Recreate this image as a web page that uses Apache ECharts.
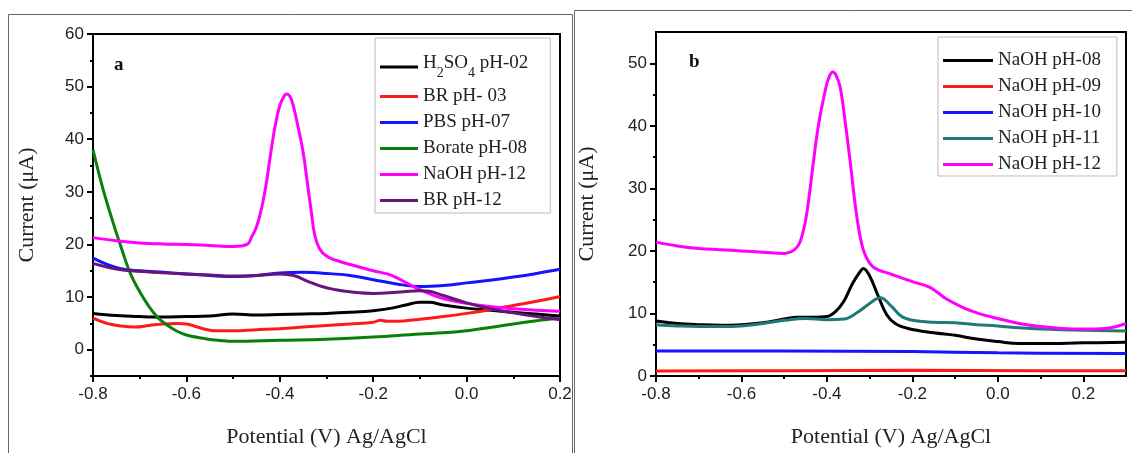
<!DOCTYPE html>
<html>
<head>
<meta charset="utf-8">
<script src="https://cdn.jsdelivr.net/npm/echarts@6/dist/echarts.min.js"></script>
<style>
  html, body { margin: 0; padding: 0; background: #fff; }
  #chart { width: 1132px; height: 453px; }
</style>
</head>
<body>
<div id="chart"></div>
<script>
// ---- panel a data ----
var aH2so4X = [-0.8, -0.75, -0.7, -0.65, -0.6, -0.55, -0.5, -0.45, -0.4, -0.35, -0.3, -0.25, -0.2, -0.16, -0.13, -0.1, -0.08, -0.05, 0, 0.05, 0.1, 0.15, 0.2];
var aH2so4Y = [6.9, 6.5, 6.3, 6.2, 6.3, 6.4, 6.8, 6.6, 6.7, 6.8, 6.9, 7.1, 7.4, 7.9, 8.5, 9.0, 9.0, 8.5, 7.9, 7.5, 7.1, 6.8, 6.4];

var aBr03X = [-0.8, -0.77, -0.74, -0.71, -0.68, -0.65, -0.62, -0.6, -0.58, -0.56, -0.54, -0.5, -0.45, -0.4, -0.35, -0.3, -0.25, -0.2, -0.185, -0.17, -0.15, -0.1, -0.05, 0, 0.05, 0.1, 0.15, 0.2];
var aBr03Y = [6.0, 5.0, 4.5, 4.3, 4.6, 4.9, 5.0, 4.9, 4.4, 3.9, 3.6, 3.6, 3.8, 4.0, 4.3, 4.6, 4.9, 5.2, 5.6, 5.4, 5.4, 5.8, 6.3, 6.9, 7.6, 8.4, 9.2, 10.1];

var aPbsX = [-0.8, -0.77, -0.74, -0.7, -0.65, -0.6, -0.55, -0.5, -0.45, -0.4, -0.35, -0.3, -0.25, -0.2, -0.15, -0.1, -0.05, 0, 0.05, 0.1, 0.15, 0.2];
var aPbsY = [17.4, 16.2, 15.4, 15.0, 14.7, 14.4, 14.1, 13.9, 14.1, 14.6, 14.7, 14.5, 14.1, 13.3, 12.5, 12.0, 12.2, 12.7, 13.2, 13.8, 14.5, 15.3];

var aBorateX = [-0.8, -0.78, -0.76, -0.74, -0.72, -0.7, -0.68, -0.66, -0.64, -0.62, -0.6, -0.56, -0.52, -0.5, -0.4, -0.3, -0.2, -0.1, -0.05, 0, 0.05, 0.1, 0.15, 0.2];
var aBorateY = [38, 31, 25, 19.5, 14.5, 11, 8.2, 6, 4.6, 3.5, 2.8, 2.1, 1.7, 1.6, 1.8, 2.0, 2.4, 3.0, 3.2, 3.6, 4.2, 4.9, 5.5, 6.0];

var aNaoh12X = [-0.8, -0.75, -0.7, -0.65, -0.6, -0.55, -0.5, -0.47, -0.46, -0.45, -0.44, -0.43, -0.42, -0.41, -0.4, -0.39, -0.385, -0.375, -0.363, -0.35, -0.342, -0.333, -0.325, -0.315, -0.3, -0.28, -0.25, -0.2, -0.17, -0.15, -0.12, -0.1, -0.05, 0, 0.05, 0.1, 0.15, 0.2];
var aNaoh12Y = [21.3, 20.7, 20.3, 20.1, 20.0, 19.8, 19.6, 20.0, 21.5, 23.3, 26.5, 31, 37, 42.5, 46.4, 48.3, 48.6, 47.5, 43.2, 37.5, 32.4, 26.5, 21.7, 19.2, 17.8, 17.0, 16.2, 15.0, 14.4, 13.7, 12.3, 11.4, 9.7, 8.8, 8.2, 7.8, 7.5, 7.3];

var aBr12X = [-0.8, -0.77, -0.74, -0.7, -0.65, -0.6, -0.55, -0.5, -0.45, -0.4, -0.37, -0.34, -0.31, -0.28, -0.25, -0.2, -0.15, -0.1, -0.08, -0.05, 0, 0.05, 0.1, 0.15, 0.2];
var aBr12Y = [16.4, 15.7, 15.2, 14.9, 14.6, 14.4, 14.2, 14.0, 14.1, 14.4, 14.1, 13.0, 12.0, 11.4, 11.0, 10.7, 10.9, 11.2, 11.1, 10.3, 8.9, 7.8, 7.0, 6.3, 5.7];

// ---- panel b data ----
var bPh08X = [-0.8, -0.75, -0.7, -0.65, -0.6, -0.55, -0.5, -0.47, -0.43, -0.4, -0.38, -0.36, -0.34, -0.32, -0.315, -0.3, -0.28, -0.26, -0.24, -0.21, -0.15, -0.1, -0.05, 0, 0.05, 0.1, 0.2, 0.3];
var bPh08Y = [8.8, 8.4, 8.2, 8.1, 8.2, 8.5, 9.1, 9.4, 9.4, 9.5, 10.3, 12.0, 14.8, 16.9, 17.2, 16.0, 12.8, 9.8, 8.4, 7.6, 6.9, 6.5, 5.9, 5.5, 5.2, 5.2, 5.3, 5.4];

var bPh09X = [-0.8, -0.5, -0.2, 0.1, 0.3];
var bPh09Y = [0.8, 0.85, 0.9, 0.85, 0.85];

var bPh10X = [-0.8, -0.5, -0.2, 0, 0.3];
var bPh10Y = [4.0, 4.0, 3.9, 3.7, 3.6];

var bPh11X = [-0.8, -0.75, -0.7, -0.65, -0.6, -0.55, -0.5, -0.45, -0.4, -0.36, -0.33, -0.3, -0.275, -0.25, -0.225, -0.2, -0.15, -0.1, -0.05, 0, 0.05, 0.1, 0.2, 0.3];
var bPh11Y = [8.2, 8.0, 7.9, 7.9, 8.0, 8.4, 8.9, 9.2, 9.0, 9.1, 10.1, 11.6, 12.5, 11.2, 9.5, 8.9, 8.6, 8.5, 8.2, 8.0, 7.7, 7.5, 7.3, 7.2];

var bPh12X = [-0.8, -0.75, -0.7, -0.65, -0.6, -0.55, -0.5, -0.47, -0.455, -0.445, -0.432, -0.42, -0.404, -0.395, -0.386, -0.378, -0.369, -0.357, -0.345, -0.334, -0.322, -0.31, -0.291, -0.25, -0.2, -0.16, -0.14, -0.12, -0.08, -0.04, 0, 0.05, 0.1, 0.15, 0.2, 0.25, 0.3];
var bPh12Y = [21.4, 20.8, 20.4, 20.2, 20.0, 19.8, 19.6, 20.6, 23.3, 27, 34, 40, 45.6, 47.8, 48.6, 48.0, 46.2, 40.5, 34, 27.5, 22.2, 19.3, 17.4, 16.3, 15.1, 14.2, 13.3, 12.3, 10.9, 9.9, 9.2, 8.4, 7.9, 7.6, 7.5, 7.6, 8.4];

// ---- tick values ----
var aXMajor = [-0.8, -0.6, -0.4, -0.2, 0, 0.2];
var aXMinor = [-0.7, -0.5, -0.3, -0.1, 0.1];
var aYMajor = [0, 10, 20, 30, 40, 50, 60];
var aYMinor = [-5, 5, 15, 25, 35, 45, 55];
var bXMajor = [-0.8, -0.6, -0.4, -0.2, 0, 0.2];
var bXMinor = [-0.7, -0.5, -0.3, -0.1, 0.1];
var bYMajor = [0, 10, 20, 30, 40, 50];
var bYMinor = [5, 15, 25, 35, 45];

var legendA = ['H2SO4 pH-02', 'BR pH- 03', 'PBS pH-07', 'Borate pH-08', 'NaOH pH-12', 'BR pH-12'];
var legendB = ['NaOH pH-08', 'NaOH pH-09', 'NaOH pH-10', 'NaOH pH-11', 'NaOH pH-12'];

var zip = function (xs, ys) {
    var out = [];
    xs.forEach(function (x, i) { out.push([x, ys[i]]); });
    return out;
};

var serifFont = 'Liberation Serif';
var sansFont = 'Liberation Sans';

var mainX = function (grid, min, max, ticks) {
    return {
        type: 'value', gridIndex: grid, min: min, max: max, position: 'bottom',
        name: 'Potential (V) Ag/AgCl', nameLocation: 'middle', nameGap: 50,
        nameTextStyle: { fontFamily: serifFont, fontSize: 22, color: '#222' },
        axisLine: { show: true, onZero: false, lineStyle: { color: '#000', width: 2 } },
        axisTick: { show: true, length: 6, customValues: ticks, lineStyle: { color: '#000', width: 2 } },
        axisLabel: { customValues: ticks, margin: 10, fontFamily: sansFont, fontSize: 17, color: '#222',
            formatter: function (v) { return v.toFixed(1); } },
        splitLine: { show: false }
    };
};
var minorX = function (grid, min, max, ticks) {
    return {
        type: 'value', gridIndex: grid, min: min, max: max, position: 'bottom', offset: 0,
        axisLine: { show: false, onZero: false },
        axisTick: { show: true, length: 3, customValues: ticks, lineStyle: { color: '#000', width: 2 } },
        axisLabel: { show: false },
        splitLine: { show: false }
    };
};
var mainY = function (grid, min, max, ticks, gap) {
    return {
        type: 'value', gridIndex: grid, min: min, max: max, position: 'left',
        name: 'Current (μA)', nameLocation: 'middle', nameGap: gap,
        nameTextStyle: { fontFamily: serifFont, fontSize: 22, color: '#222' },
        axisLine: { show: true, onZero: false, lineStyle: { color: '#000', width: 2 } },
        axisTick: { show: true, length: 6, customValues: ticks, lineStyle: { color: '#000', width: 2 } },
        axisLabel: { customValues: ticks, margin: 9, fontFamily: sansFont, fontSize: 17, color: '#222' },
        splitLine: { show: false }
    };
};
var minorY = function (grid, min, max, ticks) {
    return {
        type: 'value', gridIndex: grid, min: min, max: max, position: 'left', offset: 0,
        axisLine: { show: false, onZero: false },
        axisTick: { show: true, length: 3, customValues: ticks, lineStyle: { color: '#000', width: 2 } },
        axisLabel: { show: false },
        splitLine: { show: false }
    };
};

var line = function (name, xs, ys, color, panel) {
    return {
        name: name, type: 'line', xAxisIndex: panel, yAxisIndex: panel,
        data: zip(xs, ys), smooth: 0.4, symbol: 'none',
        lineStyle: { color: color, width: 3 }, itemStyle: { color: color }
    };
};

var legendText = function (name) {
    if (name === 'H2SO4 pH-02') {
        return '{n|H}{s|2}{n|SO}{s|4}{n| pH-02}';
    }
    return '{n|' + name + '}';
};
var legendRich = {
    n: { fontFamily: serifFont, fontSize: 19, color: '#222', verticalAlign: 'top' },
    s: { fontFamily: serifFont, fontSize: 14, color: '#222', verticalAlign: 'top', padding: [12, 0, 0, 0] }
};

var myChart = echarts.init(document.getElementById('chart'));
var option = {
    animation: false,
    grid: [
        { left: 93, top: 34, width: 467, height: 344, show: true, borderColor: '#000', borderWidth: 2 },
        { left: 656, top: 32, width: 470, height: 344, show: true, borderColor: '#000', borderWidth: 2 }
    ],
    xAxis: [
        mainX(0, -0.8, 0.2, aXMajor),
        mainX(1, -0.8, 0.3, bXMajor),
        minorX(0, -0.8, 0.2, aXMinor),
        minorX(1, -0.8, 0.3, bXMinor)
    ],
    yAxis: [
        mainY(0, -5, 60, aYMajor, 55),
        mainY(1, 0, 55, bYMajor, 58),
        minorY(0, -5, 60, aYMinor),
        minorY(1, 0, 55, bYMinor)
    ],
    legend: [
        {
            data: legendA, orient: 'vertical', left: 375, top: 38,
            icon: 'rect', itemWidth: 38, itemHeight: 3, itemGap: 7,
            padding: [16, 22, 3, 5], borderColor: '#bbb', borderWidth: 1,
            formatter: legendText, textStyle: { rich: legendRich },
            selectedMode: false
        },
        {
            data: legendB, orient: 'vertical', left: 938, top: 37,
            icon: 'rect', itemWidth: 50, itemHeight: 3, itemGap: 7,
            padding: [14, 16, 2, 5], borderColor: '#bbb', borderWidth: 1,
            formatter: legendText, textStyle: { rich: legendRich },
            selectedMode: false
        }
    ],
    graphic: [
        { type: 'rect', shape: { x: 8.5, y: 14.5, width: 564, height: 450 }, style: { fill: 'none', stroke: '#666', lineWidth: 1 }, silent: true },
        { type: 'rect', shape: { x: 574.5, y: 10.5, width: 570, height: 450 }, style: { fill: 'none', stroke: '#666', lineWidth: 1 }, silent: true },
        { type: 'text', left: 114, top: 56, style: { text: 'a', fontFamily: serifFont, fontWeight: 'bold', fontSize: 19, fill: '#111' } },
        { type: 'text', left: 689, top: 53, style: { text: 'b', fontFamily: serifFont, fontWeight: 'bold', fontSize: 19, fill: '#111' } }
    ],
    series: [
        line('H2SO4 pH-02', aH2so4X, aH2so4Y, '#000000', 0),
        line('BR pH- 03', aBr03X, aBr03Y, '#ff1a1a', 0),
        line('PBS pH-07', aPbsX, aPbsY, '#1414ff', 0),
        line('Borate pH-08', aBorateX, aBorateY, '#0a800a', 0),
        line('NaOH pH-12', aNaoh12X, aNaoh12Y, '#ff00ff', 0),
        line('BR pH-12', aBr12X, aBr12Y, '#66157a', 0),
        line('NaOH pH-08', bPh08X, bPh08Y, '#000000', 1),
        line('NaOH pH-09', bPh09X, bPh09Y, '#ff1a1a', 1),
        line('NaOH pH-10', bPh10X, bPh10Y, '#1414ff', 1),
        line('NaOH pH-11', bPh11X, bPh11Y, '#1e7a76', 1),
        line('NaOH pH-12', bPh12X, bPh12Y, '#ff00ff', 1)
    ]
};
myChart.setOption(option);
</script>
</body>
</html>
